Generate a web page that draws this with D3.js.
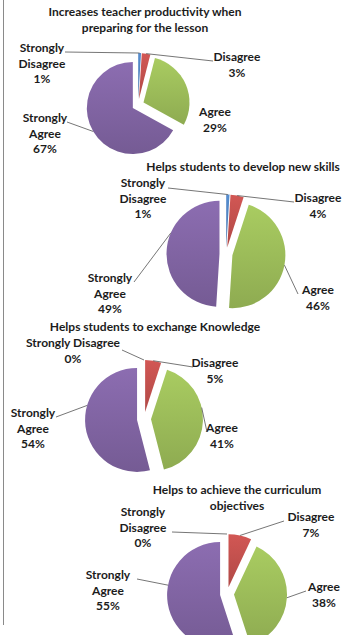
<!DOCTYPE html>
<html>
<head>
<meta charset="utf-8">
<script src="https://cdn.jsdelivr.net/npm/d3@7"></script>
<style>
  html, body { margin: 0; padding: 0; background: #fff; }
  svg { display: block; }
  text { font-family: Lato, "Open Sans", sans-serif; font-weight: 700; fill: #1c1c1c; }
</style>
</head>
<body>
<svg id="chart" width="345" height="635"></svg>
<script>
// Survey answer categories (clockwise from 12 o'clock)
const categories = ["Strongly Disagree", "Disagree", "Agree", "Strongly Agree"];

// Percentage of answers per statement
const productivityValues = [1, 3, 29, 67];
const skillsValues = [1, 4, 46, 49];
const exchangeValues = [0, 5, 41, 54];
const curriculumValues = [0, 7, 38, 55];

// Statement titles
const productivityTitle = ["Increases teacher productivity when", "preparing for the lesson"];
const skillsTitle = ["Helps students to develop new skills"];
const exchangeTitle = ["Helps students to exchange Knowledge"];
const curriculumTitle = ["Helps to achieve the curriculum", "objectives"];

const colors = ["#4f81bd", "#c0504d", "#9bbb59", "#8064a2"];
const lineGap = 15.5;
const fontSize = 12;

// Placement of each pie and its labels
const panels = [
  {
    values: productivityValues, title: productivityTitle,
    titleX: 145, titleY: 16, cx: 138, cy: 105, r: 46, explode: 6,
    labels: [
      { split: true, x: 42, y: 52, lead: [65, 52] },
      { split: false, x: 237, y: 61, lead: [213, 61] },
      { split: false, x: 215, y: 116, lead: null },
      { split: true, x: 45, y: 122, lead: [67, 122] }
    ]
  },
  {
    values: skillsValues, title: skillsTitle,
    titleX: 243, titleY: 171, cx: 226, cy: 254, r: 53, explode: 6.5,
    labels: [
      { split: true, x: 143, y: 187, lead: [168, 188] },
      { split: false, x: 318, y: 202, lead: [294, 202] },
      { split: false, x: 318, y: 294, lead: [298, 294] },
      { split: true, x: 110, y: 282, lead: [134, 282], at: 0.62 }
    ]
  },
  {
    values: exchangeValues, title: exchangeTitle,
    titleX: 155, titleY: 331, cx: 144, cy: 419, r: 52, explode: 7,
    labels: [
      { split: false, x: 73, y: 347, lead: [122, 350] },
      { split: false, x: 215, y: 367, lead: [193, 367] },
      { split: false, x: 222, y: 432, lead: [207, 432], at: 0.4 },
      { split: true, x: 33, y: 417, lead: [56, 417], at: 0.62 }
    ]
  },
  {
    values: curriculumValues, title: curriculumTitle,
    titleX: 237, titleY: 494, cx: 227, cy: 594, r: 53, explode: 7,
    labels: [
      { split: true, x: 143, y: 516, lead: [172, 532] },
      { split: false, x: 311, y: 521, lead: [284, 521] },
      { split: false, x: 324, y: 591, lead: [306, 591] },
      { split: true, x: 108, y: 579, lead: [137, 579], at: 0.6 }
    ]
  }
];

const svg = d3.select("#chart");

// Soft vertical shading for the slices
const defs = svg.append("defs");
colors.forEach((c, i) => {
  const g = defs.append("linearGradient")
    .attr("id", "grad" + i).attr("x1", 0).attr("y1", 0).attr("x2", 0).attr("y2", 1);
  g.append("stop").attr("offset", "0%").attr("stop-color", d3.color(c).brighter(0.25));
  g.append("stop").attr("offset", "100%").attr("stop-color", d3.color(c).darker(0.25));
});

// Frame line on the left
svg.append("line")
  .attr("x1", 3.5).attr("x2", 3.5).attr("y1", 0).attr("y2", 625)
  .attr("stroke", "#8a8a8a").attr("stroke-width", 1);

const pie = d3.pie().sort(null).value(d => d.value);

panels.forEach(p => {
  const data = categories.map((name, i) => ({ name, value: p.values[i], i }));
  const arcs = pie(data);
  const arc = d3.arc().innerRadius(0).outerRadius(p.r);
  const g = svg.append("g").attr("transform", `translate(${p.cx},${p.cy})`);

  // Exploded slices
  g.selectAll("path")
    .data(arcs.filter(a => a.data.value > 0))
    .join("path")
    .attr("d", arc)
    .attr("fill", a => `url(#grad${a.data.i})`)
    .attr("transform", a => {
      const m = (a.startAngle + a.endAngle) / 2;
      return `translate(${p.explode * Math.sin(m)},${-p.explode * Math.cos(m)})`;
    });

  // Title
  svg.append("text")
    .attr("x", p.titleX).attr("text-anchor", "middle").attr("font-size", fontSize)
    .selectAll("tspan").data(p.title).join("tspan")
    .attr("x", p.titleX).attr("y", (d, k) => p.titleY + k * 16)
    .text(d => d);

  // Data labels with leader lines
  arcs.forEach((a, i) => {
    const lab = p.labels[i];
    const pct = a.data.value + "%";
    const words = lab.split ? a.data.name.split(" ") : [a.data.name];
    const lines = words.concat([pct]);
    svg.append("text")
      .attr("text-anchor", "middle").attr("font-size", fontSize)
      .selectAll("tspan").data(lines).join("tspan")
      .attr("x", lab.x).attr("y", (d, k) => lab.y + k * lineGap)
      .text(d => d);

    if (lab.lead) {
      const t = lab.at == null ? 0.5 : lab.at;
      const ang = a.startAngle + (a.endAngle - a.startAngle) * t;
      const mid = (a.startAngle + a.endAngle) / 2;
      const ex = p.cx + p.explode * Math.sin(mid) + p.r * Math.sin(ang);
      const ey = p.cy - p.explode * Math.cos(mid) - p.r * Math.cos(ang);
      svg.append("line")
        .attr("x1", lab.lead[0]).attr("y1", lab.lead[1])
        .attr("x2", ex).attr("y2", ey)
        .attr("stroke", "#666").attr("stroke-width", 0.9);
    }
  });
});
</script>
</body>
</html>
